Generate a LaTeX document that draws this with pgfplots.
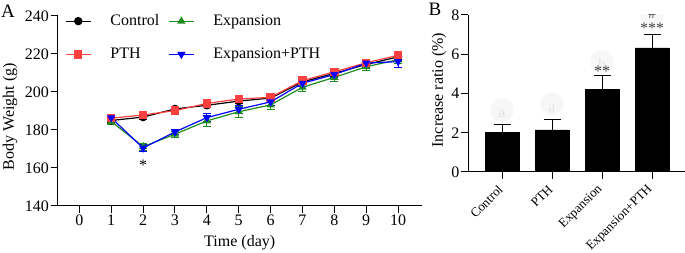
\documentclass[border=0pt]{standalone}
\usepackage{pgfplots}
\pgfplotsset{compat=1.18}
\usepackage{fontspec}
\setmainfont{Liberation Serif}
\definecolor{cred}{HTML}{FF4040}
\definecolor{cgreen}{HTML}{1E8C1E}
\definecolor{cblue}{HTML}{0000FF}
\definecolor{faint}{HTML}{F7F7F8}
\definecolor{fainttext}{HTML}{E4E4E6}
\begin{document}
\fontsize{16}{19}\selectfont
\begin{tikzpicture}
\useasboundingbox (0pt,0pt) rectangle (685pt,253pt);
\pgfplotsset{
  gp/.style={
    scale only axis,
    axis x line=bottom, axis y line=left,
    axis line style={-, line width=1pt, black},
    tick align=outside, major tick length=7pt,
    tick style={line width=1pt, black},
    /pgf/number format/assume math mode=true,
    yticklabel style={inner sep=1.5pt},
    xticklabel style={inner sep=2pt},
  },
  ser/.style={line width=1.2pt, mark size=3.6pt,
    error bars/y dir=both, error bars/y explicit,
    error bars/error bar style={line width=1pt},
    error bars/error mark options={rotate=90, line width=1pt, mark size=4pt}},
}
\begin{axis}[gp,
  at={(57.7pt,47pt)}, anchor=south west,
  width=364pt, height=190pt,
  xmin=-0.68, xmax=10.74, ymin=140, ymax=240,
  xtick={0,...,10}, ytick={140,160,...,240},
  xlabel={Time (day)}, ylabel={Body Weight (g)},
  xlabel style={at={(axis description cs:0.5,-0.195)}, anchor=center},
  ylabel style={at={(axis description cs:-0.131,0.47)}, anchor=center, rotate=0},
  legend columns=2,
  legend cell align=left,
  legend image code/.code={\draw[mark repeat=2,mark phase=2] plot coordinates {(0pt,0pt)(12.5pt,0pt)(25pt,0pt)};},
  legend style={at={(axis description cs:0.02,1.02)}, anchor=north west,
    draw=none, fill=none, inner sep=0pt,
    row sep=16pt,
    /tikz/every even column/.append style={column sep=7pt},
    /tikz/every odd column/.append style={column sep=17pt}},
]
\addplot[color=black, mark=*, ser] coordinates {
 (1,185.0) +- (0,1.2) (2,186.8) +- (0,1.2) (3,191.1) +- (0,1.2) (4,193.0) +- (0,1.2) (5,195.2) +- (0,1.2)
 (6,196.8) +- (0,1.2) (7,205.3) +- (0,1.5) (8,209.8) +- (0,1.5) (9,214.5) +- (0,1.5) (10,218.5) +- (0,1.8)};
\addlegendentry{Control}
\addplot[color=cgreen, mark=triangle*, ser] coordinates {
 (1,184.5) +- (0,1.5) (2,171.2) +- (0,1.8) (3,177.8) +- (0,1.5) (4,184.8) +- (0,3.0) (5,189.6) +- (0,3.0)
 (6,193.2) +- (0,2.5) (7,202.5) +- (0,2.5) (8,207.7) +- (0,2.0) (9,213.3) +- (0,1.8) (10,217.0) +- (0,2.0)};
\addlegendentry{Expansion}
\addplot[color=cred, mark=square*, ser] coordinates {
 (1,186.2) +- (0,1.2) (2,187.9) +- (0,1.2) (3,190.2) +- (0,1.8) (4,194.0) +- (0,2.0) (5,196.3) +- (0,1.5)
 (6,197.2) +- (0,1.2) (7,206.0) +- (0,1.5) (8,210.6) +- (0,1.5) (9,215.4) +- (0,1.5) (10,219.3) +- (0,1.8)};
\addlegendentry{PTH}
\addplot[color=cblue, mark=triangle*, mark options={rotate=180}, ser] coordinates {
 (1,186.4) +- (0,1.2) (2,170.5) +- (0,2.0) (3,179.0) +- (0,1.5) (4,186.5) +- (0,2.0) (5,190.9) +- (0,2.0)
 (6,194.8) +- (0,1.8) (7,204.6) +- (0,1.8) (8,209.2) +- (0,1.8) (9,215.2) +- (0,1.5) (10,216.0) +- (0,3.0)};
\addlegendentry{Expansion+PTH}
\node at (axis cs:2,161.3) {*};
\end{axis}

\begin{axis}[gp,
  at={(468pt,81pt)}, anchor=south west,
  width=217pt, height=157pt,
  xmin=-0.68, xmax=3.66, ymin=0, ymax=8,
  ytick={0,2,...,8}, xtick={0,1,2,3},
  xticklabels={Control,PTH,Expansion,Expansion+PTH},
  xticklabel style={yshift=-7pt, rotate=45, anchor=east, inner sep=2pt, font=\fontsize{13}{15}\selectfont},
  ylabel={Increase ratio (\%)},
  ylabel style={at={(axis description cs:-0.134,0.522)}, anchor=center},
  ybar, bar width=34pt,
]
\fill[faint] (axis cs:0,3.16) circle (11.7pt);
\fill[faint] (axis cs:1,3.46) circle (11.7pt);
\fill[faint] (axis cs:2,5.61) circle (11.7pt);
\fill[faint] (axis cs:3,7.9) circle (11.7pt);
\node[text=fainttext] at (axis cs:0,2.95) {a};
\node[text=fainttext] at (axis cs:1,3.25) {a};
\node[text=fainttext] at (axis cs:2,5.5) {b};
\addplot[fill=black, draw=black,
  error bars/y dir=plus, error bars/y explicit,
  error bars/error bar style={line width=1pt, black},
  error bars/error mark options={rotate=90, line width=1pt, mark size=8.5pt, black}]
  coordinates {(0,2.01) +- (0,0.43) (1,2.15) +- (0,0.53) (2,4.21) +- (0,0.70) (3,6.32) +- (0,0.71)};
\node[text=black!75] at (axis cs:2,5.15) {**};
\node[text=black!75] at (axis cs:3,7.3) {***};
\node[text=black!75, font=\fontsize{15}{17}\selectfont] at (axis cs:3,8.05) {\#};
\end{axis}
\node[font=\fontsize{19}{22}\selectfont] at (8pt,242pt) {A};
\node[font=\fontsize{19}{22}\selectfont] at (435pt,244pt) {B};
\end{tikzpicture}
\end{document}
